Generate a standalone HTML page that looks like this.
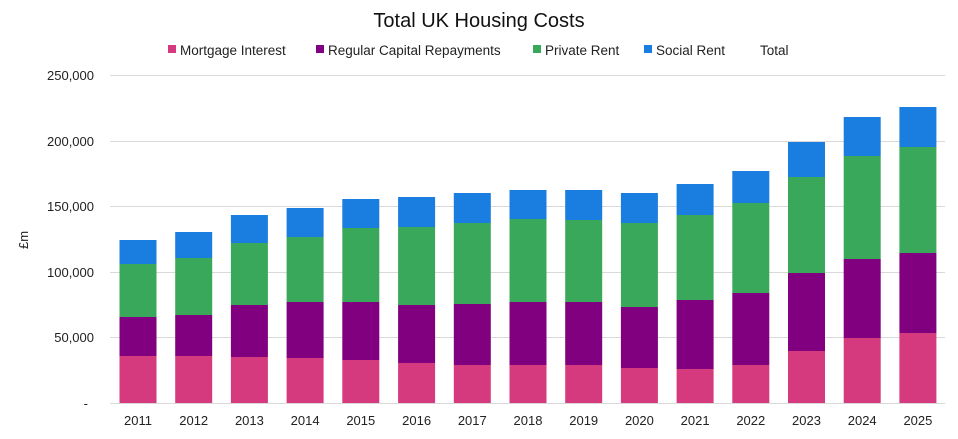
<!DOCTYPE html>
<html><head><style>body{margin:0;background:#fff}svg{font-family:"Liberation Sans",sans-serif}</style></head>
<body>
<svg width="958" height="434" xmlns="http://www.w3.org/2000/svg">
<text x="479" y="27" text-anchor="middle" font-size="20" fill="#111">Total UK Housing Costs</text>
<g font-size="13.5" fill="#222">
<rect x="168" y="45" width="8" height="8" fill="#d63a7e"/><text x="180" y="55">Mortgage Interest</text>
<rect x="316" y="45" width="8" height="8" fill="#800080"/><text x="328" y="55">Regular Capital Repayments</text>
<rect x="533" y="45" width="8" height="8" fill="#3aa85a"/><text x="545" y="55">Private Rent</text>
<rect x="644" y="45" width="8" height="8" fill="#1a7de0"/><text x="656" y="55">Social Rent</text>
<text x="760" y="55">Total</text>
</g>
<g stroke="#d9d9d9" stroke-width="1">
<line x1="110" x2="945" y1="75.5" y2="75.5"/><line x1="110" x2="945" y1="141.5" y2="141.5"/>
<line x1="110" x2="945" y1="206.5" y2="206.5"/><line x1="110" x2="945" y1="272.5" y2="272.5"/>
<line x1="110" x2="945" y1="337.5" y2="337.5"/><line x1="110" x2="945" y1="403.5" y2="403.5"/>
</g>
<g font-size="13" fill="#222" text-anchor="end">
<text x="94" y="80">250,000</text><text x="94" y="146">200,000</text><text x="94" y="211">150,000</text>
<text x="94" y="277">100,000</text><text x="94" y="342">50,000</text><text x="88" y="408">-</text>
</g>
<text transform="translate(28,240) rotate(-90)" font-size="13" fill="#222" text-anchor="middle">£m</text>
<g>
<rect x="119.5" y="356" width="37" height="47" fill="#d63a7e"/><rect x="119.5" y="317" width="37" height="39" fill="#800080"/><rect x="119.5" y="264" width="37" height="53" fill="#3aa85a"/><rect x="119.5" y="240" width="37" height="24" fill="#1a7de0"/>
<rect x="175.2" y="356" width="37" height="47" fill="#d63a7e"/><rect x="175.2" y="315" width="37" height="41" fill="#800080"/><rect x="175.2" y="258" width="37" height="57" fill="#3aa85a"/><rect x="175.2" y="232" width="37" height="26" fill="#1a7de0"/>
<rect x="230.9" y="357" width="37" height="46" fill="#d63a7e"/><rect x="230.9" y="305" width="37" height="52" fill="#800080"/><rect x="230.9" y="243" width="37" height="62" fill="#3aa85a"/><rect x="230.9" y="215" width="37" height="28" fill="#1a7de0"/>
<rect x="286.6" y="358" width="37" height="45" fill="#d63a7e"/><rect x="286.6" y="302" width="37" height="56" fill="#800080"/><rect x="286.6" y="237" width="37" height="65" fill="#3aa85a"/><rect x="286.6" y="208" width="37" height="29" fill="#1a7de0"/>
<rect x="342.3" y="360" width="37" height="43" fill="#d63a7e"/><rect x="342.3" y="302" width="37" height="58" fill="#800080"/><rect x="342.3" y="228" width="37" height="74" fill="#3aa85a"/><rect x="342.3" y="199" width="37" height="29" fill="#1a7de0"/>
<rect x="398.1" y="363" width="37" height="40" fill="#d63a7e"/><rect x="398.1" y="305" width="37" height="58" fill="#800080"/><rect x="398.1" y="227" width="37" height="78" fill="#3aa85a"/><rect x="398.1" y="197" width="37" height="30" fill="#1a7de0"/>
<rect x="453.8" y="365" width="37" height="38" fill="#d63a7e"/><rect x="453.8" y="304" width="37" height="61" fill="#800080"/><rect x="453.8" y="223" width="37" height="81" fill="#3aa85a"/><rect x="453.8" y="193" width="37" height="30" fill="#1a7de0"/>
<rect x="509.5" y="365" width="37" height="38" fill="#d63a7e"/><rect x="509.5" y="302" width="37" height="63" fill="#800080"/><rect x="509.5" y="219" width="37" height="83" fill="#3aa85a"/><rect x="509.5" y="190" width="37" height="29" fill="#1a7de0"/>
<rect x="565.2" y="365" width="37" height="38" fill="#d63a7e"/><rect x="565.2" y="302" width="37" height="63" fill="#800080"/><rect x="565.2" y="220" width="37" height="82" fill="#3aa85a"/><rect x="565.2" y="190" width="37" height="30" fill="#1a7de0"/>
<rect x="620.9" y="368" width="37" height="35" fill="#d63a7e"/><rect x="620.9" y="307" width="37" height="61" fill="#800080"/><rect x="620.9" y="223" width="37" height="84" fill="#3aa85a"/><rect x="620.9" y="193" width="37" height="30" fill="#1a7de0"/>
<rect x="676.6" y="369" width="37" height="34" fill="#d63a7e"/><rect x="676.6" y="300" width="37" height="69" fill="#800080"/><rect x="676.6" y="215" width="37" height="85" fill="#3aa85a"/><rect x="676.6" y="184" width="37" height="31" fill="#1a7de0"/>
<rect x="732.3" y="365" width="37" height="38" fill="#d63a7e"/><rect x="732.3" y="293" width="37" height="72" fill="#800080"/><rect x="732.3" y="203" width="37" height="90" fill="#3aa85a"/><rect x="732.3" y="171" width="37" height="32" fill="#1a7de0"/>
<rect x="788.0" y="351" width="37" height="52" fill="#d63a7e"/><rect x="788.0" y="273" width="37" height="78" fill="#800080"/><rect x="788.0" y="177" width="37" height="96" fill="#3aa85a"/><rect x="788.0" y="142" width="37" height="35" fill="#1a7de0"/>
<rect x="843.7" y="338" width="37" height="65" fill="#d63a7e"/><rect x="843.7" y="259" width="37" height="79" fill="#800080"/><rect x="843.7" y="156" width="37" height="103" fill="#3aa85a"/><rect x="843.7" y="117" width="37" height="39" fill="#1a7de0"/>
<rect x="899.4" y="333" width="37" height="70" fill="#d63a7e"/><rect x="899.4" y="253" width="37" height="80" fill="#800080"/><rect x="899.4" y="147" width="37" height="106" fill="#3aa85a"/><rect x="899.4" y="107" width="37" height="40" fill="#1a7de0"/>
</g>
<g font-size="13" fill="#222" text-anchor="middle">
<text x="138" y="425">2011</text><text x="193.7" y="425">2012</text><text x="249.4" y="425">2013</text><text x="305.1" y="425">2014</text><text x="360.8" y="425">2015</text><text x="416.6" y="425">2016</text><text x="472.3" y="425">2017</text><text x="528" y="425">2018</text><text x="583.7" y="425">2019</text><text x="639.4" y="425">2020</text><text x="695.1" y="425">2021</text><text x="750.8" y="425">2022</text><text x="806.5" y="425">2023</text><text x="862.2" y="425">2024</text><text x="917.9" y="425">2025</text>
</g>
</svg>
</body></html>
